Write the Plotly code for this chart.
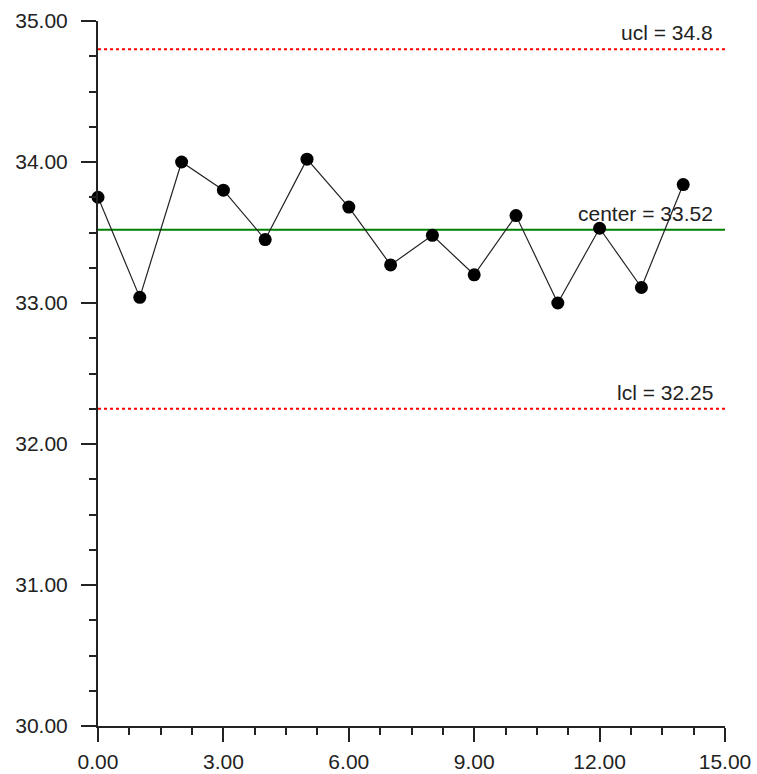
import plotly.graph_objects as go

# Data
sample_index = list(range(15))
sample_values = [33.75, 33.04, 34.00, 33.80, 33.45, 34.02, 33.68, 33.27,
                 33.48, 33.20, 33.62, 33.00, 33.53, 33.11, 33.84]
limit_names = ["ucl", "center", "lcl"]
limit_values = [34.8, 33.52, 32.25]
limit_labels = ["ucl = 34.8", "center = 33.52", "lcl = 32.25"]
limit_colors = ["#ff0000", "#008000", "#ff0000"]
limit_dash = ["3px,3px", "solid", "3px,3px"]
x_range = [0, 15]
y_range = [30, 35]
x_ticks = [0, 3, 6, 9, 12, 15]
y_ticks = [30, 31, 32, 33, 34, 35]

FONT = "Liberation Sans, Arial, sans-serif"
TXT = "#222222"

fig = go.Figure()

for name, val, col, dash in zip(limit_names, limit_values, limit_colors, limit_dash):
    fig.add_trace(go.Scatter(
        x=x_range, y=[val, val], mode="lines",
        line=dict(color=col, width=2, dash=dash),
        hoverinfo="skip", showlegend=False, name=name, cliponaxis=False))

fig.add_trace(go.Scatter(
    x=sample_index, y=sample_values, mode="lines+markers",
    line=dict(color="#222222", width=1.2),
    marker=dict(color="#000000", size=13, symbol="circle"),
    showlegend=False, name="samples", cliponaxis=False))

for lab, val in zip(limit_labels, limit_values):
    fig.add_annotation(
        x=14.75, y=val, xref="x", yref="y", text=lab, showarrow=False,
        xanchor="right", yanchor="bottom", yshift=3,
        font=dict(family=FONT, size=21, color=TXT))

fig.update_xaxes(
    range=x_range, tickvals=x_ticks, automargin=False,
    ticktext=[f"{v:.2f}" for v in x_ticks],
    showgrid=False, zeroline=False, showline=True, linewidth=2, linecolor=TXT,
    ticks="outside", ticklen=14, tickwidth=2, tickcolor=TXT,
    ticklabelstandoff=2,
    minor=dict(dtick=0.75, tick0=0, ticks="outside", ticklen=7, tickwidth=2,
               tickcolor=TXT, showgrid=False),
    tickfont=dict(family=FONT, size=21, color=TXT))

fig.update_yaxes(
    range=y_range, tickvals=y_ticks, automargin=False,
    ticktext=[f"{v:.2f}" for v in y_ticks],
    showgrid=False, zeroline=False, showline=True, linewidth=2, linecolor=TXT,
    ticks="outside", ticklen=15, tickwidth=2, tickcolor=TXT,
    ticklabelstandoff=9,
    minor=dict(dtick=0.25, tick0=30, ticks="outside", ticklen=7, tickwidth=2,
               tickcolor=TXT, showgrid=False),
    tickfont=dict(family=FONT, size=21, color=TXT))

fig.update_layout(
    width=757, height=774,
    margin=dict(l=98, r=32, t=21, b=48),
    paper_bgcolor="white", plot_bgcolor="white",
    font=dict(family=FONT, color=TXT))

fig.write_html(
    "out.html",
    config={"displayModeBar": False},
    post_script="document.body.style.margin='0';document.body.style.overflow='hidden';")
